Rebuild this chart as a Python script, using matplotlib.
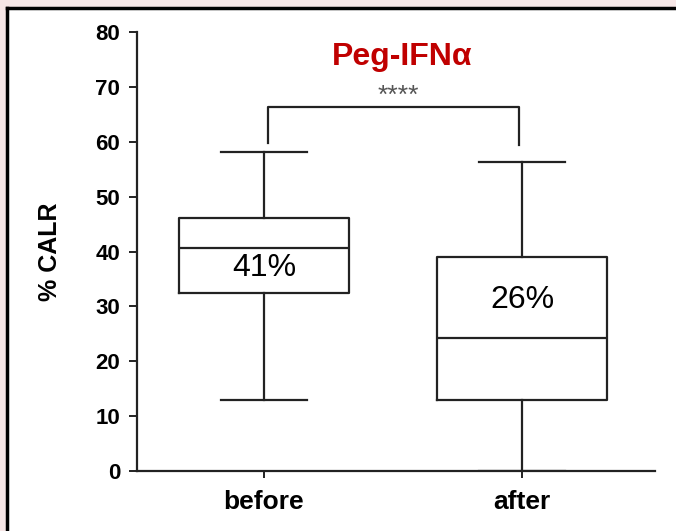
import matplotlib.pyplot as plt
from matplotlib.lines import Line2D
from matplotlib.patches import Rectangle

# values
groups = ["before", "after"]
whislo = [12.9, 0.0]
q1 = [32.4, 12.9]
med = [40.6, 24.2]
q3 = [46.1, 39.0]
whishi = [58.1, 56.3]
box_labels = ["41%", "26%"]
yticks = [0, 10, 20, 30, 40, 50, 60, 70, 80]

plt.rcParams['font.family'] = ['Liberation Sans', 'DejaVu Sans']
ink = "#222222"

fig = plt.figure(figsize=(6.76, 5.31), dpi=100, facecolor="#f6e6e6")
# white panel with black frame on left and top
fig.add_artist(Rectangle((7/676, 0), 1, 1 - 8/531, transform=fig.transFigure,
                         facecolor="white", edgecolor="none", zorder=0))
fig.add_artist(Line2D([7/676, 7/676], [0, 1 - 8/531], transform=fig.transFigure,
                      color="black", lw=2.5))
fig.add_artist(Line2D([7/676, 1], [1 - 8/531, 1 - 8/531], transform=fig.transFigure,
                      color="black", lw=2.5))

ax = fig.add_axes([137/676, 1 - 471/531, 518/676, 439/531])
ax.set_facecolor("none")

stats = []
for i in range(len(groups)):
    stats.append(dict(whislo=whislo[i], q1=q1[i], med=med[i], q3=q3[i],
                      whishi=whishi[i], fliers=[], label=groups[i]))

lp = dict(color=ink, linewidth=1.6)
ax.bxp(stats, positions=[1, 2], widths=0.66, capwidths=0.33, showfliers=False,
       boxprops=lp, whiskerprops=lp, capprops=lp, medianprops=lp)

for i, lab in enumerate(box_labels):
    ypos = [37.0, 31.2][i]
    ax.text(i + 1, ypos, lab, ha="center", va="center", fontsize=23, color="black")

# significance bracket
ax.plot([1.015, 1.015, 1.99, 1.99], [59.8, 66.3, 66.3, 59.4], color=ink, lw=1.6,
        clip_on=False)
ax.text(1.52, 68.3, "****", ha="center", va="center", fontsize=19, color="#555555")

ax.text(1.535, 75.5, "Peg-IFN\u03b1", ha="center", va="center", fontsize=23,
        fontweight="bold", color="#c00000")

ax.set_xlim(0.508, 2.515)
ax.set_ylim(0, 80)
ax.set_yticks(yticks)
ax.set_xticks([1, 2])
ax.set_xticklabels(groups, fontsize=19, fontweight="bold")
for t in ax.get_yticklabels():
    t.set_fontweight("bold")
    t.set_fontsize(16)
ax.set_ylabel("% CALR", fontsize=18, fontweight="bold", labelpad=24)

for s in ["top", "right"]:
    ax.spines[s].set_visible(False)
for s in ["left", "bottom"]:
    ax.spines[s].set_color(ink)
    ax.spines[s].set_linewidth(1.6)
ax.tick_params(axis="y", direction="out", length=6, width=1.4, color=ink, pad=6)
ax.tick_params(axis="x", direction="out", length=5, width=1.4, color=ink, pad=9)

fig.savefig("out.png", dpi=100)
